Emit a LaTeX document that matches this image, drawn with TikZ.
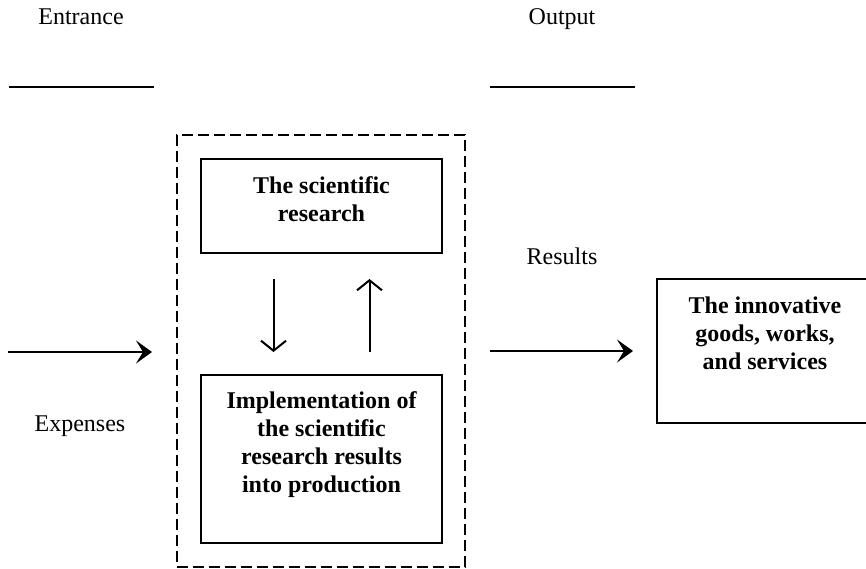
\documentclass[tikz,border=0pt]{standalone}
\usepackage{fontspec}
\setmainfont{Liberation Serif}
\usepackage{tikz}
\usetikzlibrary{arrows.meta}
\usetikzlibrary{positioning}

\begin{document}
\begin{tikzpicture}[x=0.5pt,y=-0.5pt]
  % some styles
  \tikzset{
    box/.style={
      rectangle,
      draw=black,
      line width=1pt,
      inner sep=0pt,
      outer sep=0pt
    }
  }
  \tikzset{frame/.style={rectangle,draw=black,line width=1pt,dash pattern=on 5.5pt off 2.5pt,inner sep=0pt}}
  \tikzset{boxtext/.style={align=center,inner sep=0pt,font=\fontsize{12}{14}\selectfont\bfseries}}
  \tikzset{caption/.style={inner sep=0pt,anchor=base,font=\fontsize{12}{14}\selectfont}}
  \tikzset{flow/.style={line width=1pt,-{Stealth[length=8pt,width=11.5pt,inset=3.5pt]}}}
  \tikzset{loop/.style={line width=1pt,-{Straight Barb[length=5pt,width=12.5pt]}}}

  \clip (0,0) rectangle (866,568);

% entrance and output headings with their blank lines
\foreach \x/\t in {81/Entrance,562/Output} {
    \node[caption] (head\t) at (\x,24) {\t};
    \draw[line width=1pt] (\x-72.5,87) -- (\x+72.5,87);
}

% the dashed frame and the two boxes in it
\node[frame, minimum width=144pt, minimum height=216pt] (frame) at (321,351) {};
\node[box, minimum width=120.5pt, minimum height=47pt] (research) at (321.5,206) {};
\node[boxtext] (researchtext) at (321.5,199) {The scientific\\research};
\node[box, minimum width=120.5pt, minimum height=84pt] (impl) at (321.5,459) {};
\node[boxtext] (impltext) at (321.5,445) {Implementation of\\the scientific\\research results\\into production};

% the result box, cut by the right edge
\node[box, minimum width=108pt, minimum height=72pt] (goods) at (765,351) {};
\node[boxtext] (goodstext) at (765,333) {The innovative\\goods, works,\\and services};

% inputs and outputs
\coordinate (in) at (8,352);
\coordinate (out) at (489,351);
\draw[flow, shorten >=12pt] (in) -- (in -| frame.west);
\draw[flow, shorten <=12pt, shorten >=12pt] (frame.east |- out) -- (goods.west |- out);
\node[caption] (expenses) at (80,431) {Expenses};
\node[caption] (results) at (562,264) {Results};

% links between research and implementation
\draw[loop, shorten <=13pt, shorten >=11.5pt] ([xshift=-24pt]research.south) -- ([xshift=-24pt]impl.north);
\draw[loop, shorten <=11.5pt, shorten >=13pt] ([xshift=24pt]impl.north) -- ([xshift=24pt]research.south);

\end{tikzpicture}
\end{document}
